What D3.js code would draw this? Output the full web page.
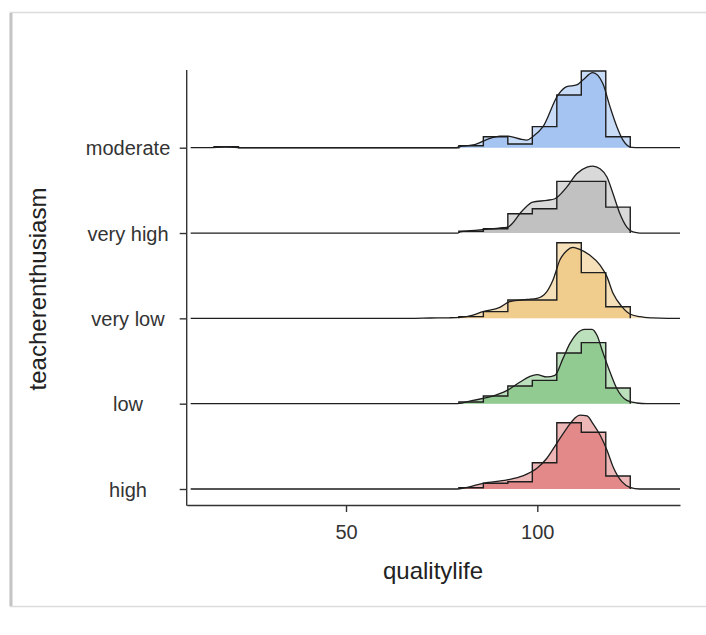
<!DOCTYPE html>
<html>
<head>
<meta charset="utf-8">
<script src="https://cdn.jsdelivr.net/npm/d3@7"></script>
<style>
  body { margin: 0; background: #fff; }
  svg { display: block; font-family: "Liberation Sans", Arial, sans-serif; }
</style>
</head>
<body>
<svg id="chart" width="706" height="635"></svg>
<script>
// groups, top ridge first
var groups = ["moderate", "very high", "very low", "low", "high"];
var groupColors = ["#6B9DE8", "#999999", "#E6AC40", "#48A848", "#D03C3C"];

// histogram bin edges (qualitylife) and density per bin, one list per group
var binEdges = [15.5, 21.9, 28.3, 34.7, 41.1, 47.5, 53.9, 60.3, 66.7, 73.1, 79.5, 85.9, 92.3, 98.7, 105.1, 111.5, 117.9, 124.3];
var histModerate = [0.0009, 0, 0, 0, 0, 0, 0, 0, 0, 0, 0.0017, 0.0096, 0.0032, 0.0184, 0.0461, 0.0671, 0.0096];
var histVeryHigh = [0, 0, 0, 0, 0, 0, 0, 0, 0, 0, 0.0015, 0.0038, 0.0169, 0.0213, 0.0452, 0.0452, 0.0227];
var histVeryLow  = [0, 0, 0, 0, 0, 0, 0, 0, 0, 0, 0.0015, 0.0059, 0.0160, 0.0160, 0.0662, 0.0400, 0.0102];
var histLow      = [0, 0, 0, 0, 0, 0, 0, 0, 0, 0, 0.0015, 0.0067, 0.0155, 0.0204, 0.0444, 0.0534, 0.0137];
var histHigh     = [0, 0, 0, 0, 0, 0, 0, 0, 0, 0, 0.0011, 0.0050, 0.0064, 0.0230, 0.0580, 0.0496, 0.0114];

// kernel density estimates [qualitylife, density]
var densRange = [9.4, 137.3];
var densModerate = [[14, 0], [18.5, 0.0006], [23, 0], [78.5, 0], [79.8, 0.0009], [83.2, 0.0024], [87.6, 0.0081],
  [90.2, 0.0102], [92.3, 0.0102], [95.5, 0.0076], [97.3, 0.0067], [98.8, 0.0096], [101.5, 0.0184],
  [105.4, 0.0461], [107.7, 0.0534], [110.3, 0.0549], [111.9, 0.0592], [114.5, 0.0656], [117.1, 0.0563],
  [119.0, 0.0359], [120.8, 0.0184], [122.4, 0.0067], [124.7, 0.0003], [126.8, 0]];
var densVeryHigh = [[79.2, 0], [79.8, 0.0011], [85.8, 0.0029], [91.0, 0.0046], [92.3, 0.0052], [96.2, 0.0199],
  [98.8, 0.0271], [102.5, 0.0286], [104.6, 0.0300], [107.7, 0.0402], [110.3, 0.0519], [113.0, 0.0577],
  [114.5, 0.0586], [116.4, 0.0563], [118.2, 0.0490], [119.8, 0.0344], [121.6, 0.0169], [123.4, 0.0052],
  [125.0, 0.0009], [126.8, 0]];
var densVeryLow = [[66.7, 0], [72, 0.0003], [77, 0.0005], [79.8, 0.0009], [83.2, 0.0029], [85.8, 0.0059],
  [90.2, 0.0096], [92.8, 0.0146], [97.3, 0.0166], [99.9, 0.0175], [102.5, 0.0234], [104.1, 0.0335],
  [105.9, 0.0510], [107.7, 0.0592], [109.3, 0.0621], [111.1, 0.0604], [113.7, 0.0554], [116.4, 0.0466],
  [118.2, 0.0365], [119.8, 0.0219], [122.1, 0.0102], [124.2, 0.0038], [126.8, 0.0015], [130.2, 0.0004], [134, 0]];
var densLow = [[79.2, 0], [83.2, 0.0029], [87.6, 0.0059], [92.1, 0.0116], [95.5, 0.0190], [98.1, 0.0239],
  [99.9, 0.0254], [102.5, 0.0234], [104.6, 0.0248], [106.7, 0.0394], [108.5, 0.0525], [110.3, 0.0612],
  [112.4, 0.0650], [114.3, 0.0650], [115.6, 0.0598], [117.1, 0.0452], [119.0, 0.0277], [120.8, 0.0131],
  [123.4, 0.0029], [126.0, 0.0006], [128.6, 0]];
var densHigh = [[79.2, 0], [82, 0.0017], [85.8, 0.0050], [92.1, 0.0079], [96.2, 0.0114], [99.9, 0.0181],
  [102.5, 0.0269], [105.1, 0.0400], [107.7, 0.0531], [109.8, 0.0619], [111.1, 0.0647], [113.0, 0.0639],
  [114.5, 0.0575], [116.4, 0.0472], [118.2, 0.0341], [119.8, 0.0195], [122.1, 0.0064], [124.2, 0.0015], [126.8, 0]];

var xTicks = [50, 100];

var hists = [histModerate, histVeryHigh, histVeryLow, histLow, histHigh];
var dens = [densModerate, densVeryHigh, densVeryLow, densLow, densHigh];

var svg = d3.select('#chart');

// card frame
svg.append('rect')
    .attr('x', 10.5).attr('y', 12.5)
    .attr('width', 720).attr('height', 594)
    .style('fill', '#fff')
    .style('stroke', '#dcdcdc')
    .style('stroke-width', 1.5);
svg.append('line')
    .attr('x1', 11).attr('x2', 11).attr('y1', 13).attr('y2', 606)
    .style('stroke', '#c4c4c4')
    .style('stroke-width', 3);

var x = d3.scaleLinear().domain([8.36, 137.3]).range([186.7, 680]);
var y = d3.scalePoint().domain(groups).range([147.7, 489]);
var h = d3.scaleLinear().domain([0, 0.1]).range([0, 114.3]);

var ridges = groups.map(function(g, i) {
    var hs = hists[i];
    // step outline of the histogram, starting at the first non-empty bin
    var first = hs.findIndex(function(v) { return v > 0; });
    var steps = [[binEdges[first], 0]];
    hs.forEach(function(v, j) {
        if (j < first) return;
        steps.push([binEdges[j], v]);
        steps.push([binEdges[j + 1], v]);
    });
    steps.push([binEdges[binEdges.length - 1], 0]);
    var dd = [[densRange[0], 0]].concat(dens[i]).concat([[densRange[1], 0]]);
    return { name: g, color: groupColors[i], steps: steps, dens: dd };
});

var layerAlpha = 0.37;
var lineCol = '#1e1e1e';

var g = svg.selectAll('g.ridge')
    .data(ridges)
    .enter()
    .append('g')
    .attr('class', 'ridge')
    .attr('transform', function(d) { return 'translate(0,' + y(d.name) + ')'; });

var densArea = d3.area()
    .x(function(d) { return x(d[0]); })
    .y0(0)
    .y1(function(d) { return -h(d[1]); })
    .curve(d3.curveMonotoneX);
var densLine = d3.line()
    .x(function(d) { return x(d[0]); })
    .y(function(d) { return -h(d[1]); })
    .curve(d3.curveMonotoneX);
var stepLine = d3.line()
    .x(function(d) { return x(d[0]); })
    .y(function(d) { return -h(d[1]); });

g.append('path')
    .attr('d', function(d) { return densArea(d.dens); })
    .style('fill', function(d) { return d.color; })
    .style('fill-opacity', layerAlpha)
    .style('stroke', 'none');

g.append('path')
    .attr('d', function(d) { return stepLine(d.steps); })
    .style('fill', function(d) { return d.color; })
    .style('fill-opacity', layerAlpha)
    .style('stroke', lineCol)
    .style('stroke-width', 1.4)
    .style('stroke-linejoin', 'miter');

g.append('path')
    .attr('d', function(d) { return densLine(d.dens); })
    .style('fill', 'none')
    .style('stroke', lineCol)
    .style('stroke-width', 1.3);

// axes
var xAxis = svg.append('g')
    .attr('transform', 'translate(0,505)')
    .call(d3.axisBottom(x).tickValues(xTicks).tickSize(7).tickSizeOuter(0).tickPadding(13));
xAxis.select('.domain').style('stroke', '#333').style('stroke-width', 1.4);
xAxis.selectAll('.tick line').style('stroke', '#333').style('stroke-width', 1.4);
xAxis.selectAll('.tick text')
    .style('font-size', '20px')
    .style('fill', '#333')
    .style('font-family', '"Liberation Sans", Arial, sans-serif');

var yAxis = svg.append('g')
    .attr('transform', 'translate(186.7,0)')
    .call(d3.axisLeft(y).tickSize(7).tickSizeOuter(0));
yAxis.select('.domain').remove();
yAxis.selectAll('.tick line').style('stroke', '#333').style('stroke-width', 1.4);
yAxis.selectAll('.tick text')
    .attr('x', -58.7)
    .attr('dy', '0.36em')
    .style('text-anchor', 'middle')
    .style('font-size', '20px')
    .style('fill', '#333')
    .style('font-family', '"Liberation Sans", Arial, sans-serif');

svg.append('line')
    .attr('x1', 186.7).attr('x2', 186.7)
    .attr('y1', 70).attr('y2', 505.7)
    .style('stroke', '#333')
    .style('stroke-width', 1.4);

svg.append('text')
    .attr('x', 433)
    .attr('y', 579)
    .attr('text-anchor', 'middle')
    .style('font-size', '24px')
    .style('fill', '#222')
    .text('qualitylife');

svg.append('text')
    .attr('transform', 'translate(46,289) rotate(-90)')
    .attr('text-anchor', 'middle')
    .style('font-size', '24px')
    .style('fill', '#222')
    .text('teacherenthusiasm');
</script>
</body>
</html>
